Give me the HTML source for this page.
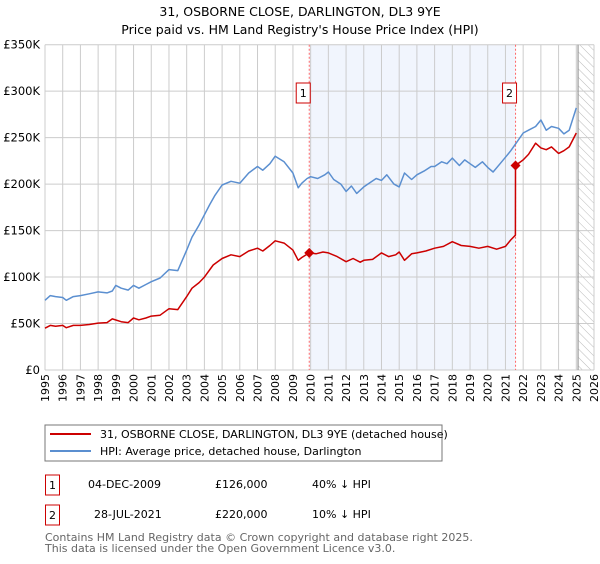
<!DOCTYPE html>
<html><head><meta charset="utf-8"><style>
body{margin:0;background:#fff;font-family:"DejaVu Sans","Liberation Sans",sans-serif;}
</style></head><body>
<svg id="c" width="600" height="560" xmlns="http://www.w3.org/2000/svg" font-family="DejaVu Sans, Liberation Sans, sans-serif">
<defs><pattern id="hatch" width="6" height="6" patternUnits="userSpaceOnUse" patternTransform="rotate(-45)"><line x1="0" y1="0" x2="0" y2="6" stroke="#bbb" stroke-width="1"/></pattern></defs>
<text x="300" y="16" text-anchor="middle" font-size="12.5">31, OSBORNE CLOSE, DARLINGTON, DL3 9YE</text>
<text x="300" y="34" text-anchor="middle" font-size="12.5">Price paid vs. HM Land Registry's House Price Index (HPI)</text>
<g id="plot"></g>
<rect x="45" y="425" width="397" height="36" fill="#fff" stroke="#777"/>
<line x1="50" y1="434" x2="91" y2="434" stroke="#cc0000" stroke-width="2"/>
<text x="100" y="438" font-size="11">31, OSBORNE CLOSE, DARLINGTON, DL3 9YE (detached house)</text>
<line x1="50" y1="451" x2="91" y2="451" stroke="#5b8fd0" stroke-width="2"/>
<text x="100" y="455" font-size="11">HPI: Average price, detached house, Darlington</text>
<g font-size="11">
<rect x="45.5" y="475" width="14" height="20" fill="#fff" stroke="#cc0000"/>
<text x="52.5" y="489" text-anchor="middle">1</text>
<text x="88" y="488">04-DEC-2009</text>
<text x="215" y="488">£126,000</text>
<text x="312" y="488">40% ↓ HPI</text>
<rect x="45.5" y="505" width="14" height="20" fill="#fff" stroke="#cc0000"/>
<text x="52.5" y="519" text-anchor="middle">2</text>
<text x="94" y="518">28-JUL-2021</text>
<text x="215" y="518">£220,000</text>
<text x="312" y="518">10% ↓ HPI</text>
</g>
<text x="45" y="541" font-size="11" fill="#666">Contains HM Land Registry data © Crown copyright and database right 2025.</text>
<text x="45" y="552" font-size="11" fill="#666">This data is licensed under the Open Government Licence v3.0.</text>
</svg>
<script>
const yTicks=[0,50,100,150,200,250,300,350];
const yTickLabels=["£0","£50K","£100K","£150K","£200K","£250K","£300K","£350K"];
const xYears=[1995,1996,1997,1998,1999,2000,2001,2002,2003,2004,2005,2006,2007,2008,2009,2010,2011,2012,2013,2014,2015,2016,2017,2018,2019,2020,2021,2022,2023,2024,2025,2026];
const hpiT=[1995,1995.3,1995.6,1996,1996.2,1996.6,1997,1997.5,1998,1998.5,1998.8,1999,1999.3,1999.7,2000,2000.3,2000.7,2001,2001.5,2002,2002.5,2003,2003.3,2003.7,2004,2004.3,2004.6,2005,2005.5,2006,2006.5,2007,2007.3,2007.7,2008,2008.5,2009,2009.3,2009.5,2009.8,2010,2010.4,2010.8,2011,2011.3,2011.7,2012,2012.3,2012.6,2013,2013.3,2013.7,2014,2014.3,2014.7,2015,2015.3,2015.7,2016,2016.4,2016.8,2017,2017.4,2017.7,2018,2018.4,2018.7,2019,2019.3,2019.7,2020,2020.3,2020.7,2021,2021.3,2021.6,2022,2022.3,2022.7,2023,2023.3,2023.6,2024,2024.3,2024.6,2025];
const hpiV=[75,80,79,78,75,79,80,82,84,83,85,91,88,86,91,88,92,95,99,108,107,129,143,156,167,178,188,199,203,201,212,219,215,222,230,224,212,196,201,206,208,206,210,213,205,200,192,198,190,197,201,206,204,210,200,197,212,205,210,214,219,219,224,222,228,220,226,222,218,224,218,213,222,229,236,244,255,258,262,269,258,262,260,254,258,282];
const ppT=[1995,1995.3,1995.6,1996,1996.2,1996.6,1997,1997.5,1998,1998.5,1998.8,1999.3,1999.7,2000,2000.3,2000.7,2001,2001.5,2002,2002.5,2003,2003.3,2003.7,2004,2004.5,2005,2005.5,2006,2006.5,2007,2007.3,2007.7,2008,2008.5,2009,2009.3,2009.5,2009.92,2010.3,2010.7,2011,2011.5,2012,2012.4,2012.8,2013,2013.5,2014,2014.4,2014.8,2015,2015.3,2015.7,2016,2016.5,2017,2017.5,2018,2018.5,2019,2019.5,2020,2020.5,2021,2021.3,2021.56,2021.57,2022,2022.3,2022.7,2023,2023.3,2023.6,2024,2024.3,2024.6,2025];
const ppV=[45,48,47,48,45.5,48,48,49,50.5,51,55,52,51,56,54,56,58,59,66,65,79,88,94,100,113,120,124,122,128,131,128,134,139,136.5,129,118,121,126,125,127,126,122,116.5,120,116,118,119,126,122,124,127,118,125,126,128,131,133,138,134,133,131,133,130,133,140,145,220,226,232,244,239,237,240,233,236,240,255];
const sales=[{t:2009.92,v:126,l:"1"},{t:2021.57,v:220,l:"2"}];
const X0=45,X1=594,Y0=370,Y1=44.7;
const xs=t=>X0+(t-1995)/(2026-1995)*(X1-X0);
const ys=v=>Y0-v/350*(Y0-Y1);
const NS="http://www.w3.org/2000/svg";
const g=document.getElementById('plot');
function mk(tag,attrs,parent){const e=document.createElementNS(NS,tag);for(const k in attrs)e.setAttribute(k,attrs[k]);(parent||g).appendChild(e);return e;}
let e;
e=mk('rect',{x:xs(sales[0].t),y:Y1,width:xs(sales[1].t)-xs(sales[0].t),height:Y0-Y1,fill:'#eef3fc',opacity:0.8});


e=mk('rect',{x:xs(2025.1),y:Y1,width:X1-xs(2025.1),height:Y0-Y1,fill:'url(#hatch)'});


xYears.forEach(yr=>{
 e=mk('line',{x1:xs(yr),x2:xs(yr),y1:Y1,y2:Y0,stroke:'#cccccc'});
 
 
 const x=xs(yr)+4,y=Y0+4;
 e=mk('text',{x:x,y:y,'font-size':11,'text-anchor':'end',transform:`rotate(-90 ${x} ${y})`});
 e.textContent=yr;
 
 
});
yTicks.forEach((v,i)=>{
 e=mk('line',{x1:X0,x2:X1,y1:ys(v),y2:ys(v),stroke:'#cccccc'});
 
 
 e=mk('text',{x:40,y:ys(v)+4,'font-size':11.5,'text-anchor':'end'});
 e.textContent=yTickLabels[i];
 
 
});
e=mk('line',{x1:xs(2025.1),x2:xs(2025.1),y1:Y1,y2:Y0,stroke:'#999',"stroke-width":1.2});


sales.forEach(s=>{
 e=mk('line',{x1:xs(s.t),x2:xs(s.t),y1:Y1,y2:Y0,stroke:'#ff6666','stroke-dasharray':'2,2'});
 
 
});
function path(T,V,col,name){
 const d=T.map((t,i)=>(i?'L':'M')+xs(t).toFixed(1)+','+ys(V[i]).toFixed(1)).join('');
 const p=mk('path',{d:d,fill:'none',stroke:col,'stroke-width':1.5,'stroke-linejoin':'round'});
 
 
}
path(hpiT,hpiV,'#5b8fd0','hpi-line');
path(ppT,ppV,'#cc0000','price-paid-line');
sales.forEach(s=>{
 const cx=xs(s.t),cy=ys(s.v);
 e=mk('path',{d:`M${cx-5},${cy}L${cx},${cy-5}L${cx+5},${cy}L${cx},${cy+5}Z`,fill:'#cc0000'});
 
 
 e=mk('rect',{x:cx-13,y:83,width:14,height:20,fill:'#fff',stroke:'#cc0000'});
 
 
 e=mk('text',{x:cx-6,y:97,'font-size':11,'text-anchor':'middle'});
 e.textContent=s.l;
 
 
});
</script>
</body></html>
